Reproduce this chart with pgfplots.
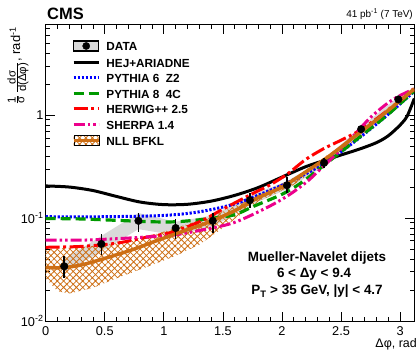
\documentclass[border=0pt]{standalone}
\usepackage{fontspec}
\setmainfont{Liberation Sans}
\usepackage{pgfplots}
\pgfplotsset{compat=1.18}
\usepackage{pgfplotstable}
\usetikzlibrary{patterns,patterns.meta}
\definecolor{nllorange}{RGB}{205,110,20}
\definecolor{pgreen}{RGB}{0,153,0}

\pgfplotstableread{
x y ep em
0.157 0.034 0.009 0.008
0.471 0.056 0.014 0.012
0.785 0.094 0.019 0.020
1.100 0.080 0.017 0.018
1.414 0.094 0.019 0.022
1.728 0.149 0.028 0.023
2.042 0.208 0.040 0.034
2.356 0.344 0.040 0.036
2.670 0.73 0.06 0.055
2.985 1.42 0.11 0.10
}\datatab

\begin{document}
\begin{tikzpicture}
\path[use as bounding box] (0,0) rectangle (418bp,351bp);
\begin{axis}[
  at={(45.7bp,30bp)}, anchor=south west,
  scale only axis, width=368.6bp, height=296bp,
  xmin=0, xmax=3.12, ymode=log, ymin=0.01, ymax=7.5,
  xtick={0,0.5,1,1.5,2,2.5,3}, minor x tick num=4,
  ytick={0.01,0.1,1},
  yticklabels={10\textsuperscript{-2},10\textsuperscript{-1},1},
  minor ytick={0.02,0.03,0.04,0.05,0.06,0.07,0.08,0.09,0.2,0.3,0.4,0.5,0.6,0.7,0.8,0.9,2,3,4,5,6,7},
  xtick pos=both, ytick pos=both,
  xticklabel pos=bottom, yticklabel pos=left,
  tick align=inside,
  major tick length=9bp, minor tick length=4.5bp,
  every tick/.style={black, line width=0.8bp},
  axis line style={line width=1bp},
  /pgf/number format/assume math mode=true,
  xticklabel style={font=\fontsize{12.8}{12.8}\selectfont, inner sep=0pt, yshift=-5.5bp},
  yticklabel style={font=\fontsize{12.8}{12.8}\selectfont, inner sep=0pt, xshift=-2bp},
  legend style={draw=none, fill=none, at={(axis description cs:0.0713,0.948)}, anchor=north west,
     inner sep=0pt, outer sep=0pt, row sep=5.6bp,
     font=\fontsize{11.8}{11.8}\selectfont\bfseries,
     nodes={inner sep=0pt, text height=10bp, text depth=0pt},
     /tikz/every odd column/.append style={column sep=6bp}},
  legend cell align=left,
]
% data systematic band
\addplot[draw=none, fill=gray!30, forget plot] coordinates {
(0.157,0.040) (0.471,0.067) (0.785,0.112) (1.100,0.092) (1.414,0.106) (1.728,0.165) (2.042,0.228) (2.356,0.37) (2.670,0.77) (2.985,1.50)
(2.985,1.35) (2.670,0.69) (2.356,0.32) (2.042,0.19) (1.728,0.133) (1.414,0.082) (1.100,0.068) (0.785,0.078) (0.471,0.047) (0.157,0.030)
} -- cycle;
% NLL BFKL band
\addplot[draw=none, pattern={Hatch[angle=45,distance=4.5bp,line width=0.8bp]}, pattern color=nllorange, forget plot] coordinates {
(0,0.050) (0.3,0.052) (0.6,0.057) (0.9,0.068) (1.1,0.080) (1.3,0.095) (1.5,0.115) (1.8,0.168) (2.1,0.245) (2.4,0.42) (2.7,0.73) (3.0,1.42) (3.12,1.85)
(3.12,1.75) (3.0,1.32) (2.7,0.66) (2.4,0.37) (2.1,0.21) (1.8,0.145) (1.5,0.080) (1.3,0.055) (1.1,0.043) (0.9,0.035) (0.6,0.026) (0.4,0.021) (0.2,0.0185) (0.1,0.0195) (0,0.026)
} -- cycle;
% HEJ+ARIADNE
\addplot[black, line width=3bp, smooth, tension=0.5, forget plot] coordinates {
(0,0.205) (0.2,0.200) (0.4,0.185) (0.6,0.162) (0.8,0.143) (1.0,0.135) (1.2,0.136) (1.4,0.146) (1.6,0.166) (1.8,0.198) (2.0,0.250) (2.2,0.315) (2.35,0.360) (2.5,0.410) (2.65,0.465) (2.8,0.54) (2.9,0.63) (3.0,0.80) (3.06,0.98) (3.12,1.45)
};
% PYTHIA 6 Z2
\addplot[blue, line width=3bp, dash pattern=on 2.2bp off 1.8bp, smooth, tension=0.5, forget plot] coordinates {
(0,0.103) (0.5,0.103) (1.0,0.106) (1.3,0.115) (1.6,0.137) (1.87,0.18) (2.1,0.235) (2.3,0.31) (2.5,0.44) (2.7,0.66) (2.9,1.02) (3.12,1.70)
};
% PYTHIA 8 4C
\addplot[pgreen, line width=3.2bp, dash pattern=on 10bp off 5bp, smooth, tension=0.5, forget plot] coordinates {
(0,0.099) (0.3,0.098) (0.6,0.095) (0.9,0.092) (1.1,0.092) (1.33,0.097) (1.59,0.107) (1.76,0.13) (2.0,0.17) (2.15,0.215) (2.3,0.29) (2.5,0.44) (2.7,0.67) (2.9,1.02) (3.12,1.72)
};
% HERWIG++ 2.5
\addplot[red, line width=3bp, dash pattern=on 14bp off 3.5bp on 3bp off 3.5bp, smooth, tension=0.5, forget plot] coordinates {
(0,0.052) (0.3,0.053) (0.6,0.057) (0.85,0.065) (1.07,0.073) (1.31,0.093) (1.5,0.122) (1.76,0.175) (1.9,0.21) (2.05,0.27) (2.2,0.37) (2.35,0.47) (2.5,0.57) (2.65,0.70) (2.8,0.92) (2.95,1.25) (3.12,1.75)
};
% SHERPA 1.4
\addplot[magenta, line width=3bp, dash pattern=on 11bp off 3bp on 2.5bp off 3bp on 2.5bp off 3bp, smooth, tension=0.5, forget plot] coordinates {
(0,0.061) (0.3,0.061) (0.6,0.063) (0.9,0.066) (1.07,0.068) (1.31,0.076) (1.59,0.09) (1.87,0.126) (2.05,0.165) (2.2,0.22) (2.3,0.28) (2.45,0.41) (2.6,0.62) (2.75,0.95) (2.9,1.32) (3.0,1.55) (3.12,1.8)
};
% NLL BFKL central
\addplot[nllorange, line width=3.5bp, smooth, tension=0.5, forget plot] coordinates {
(0,0.033) (0.15,0.033) (0.3,0.035) (0.45,0.039) (0.6,0.044) (0.75,0.050) (0.9,0.058) (1.05,0.067) (1.2,0.077) (1.4,0.093) (1.6,0.118) (1.8,0.158) (2.0,0.20) (2.2,0.28) (2.4,0.40) (2.6,0.60) (2.8,0.90) (3.0,1.38) (3.12,1.8)
};
% DATA
\addplot[black, only marks, mark=*, mark size=3.8bp, forget plot,
  error bars/.cd, y dir=both, y explicit, error mark=none,
  error bar style={line width=1.5bp, black}]
  table[x=x, y=y, y error plus=ep, y error minus=em] {\datatab};

\addlegendimage{legend image code/.code={
  \draw[fill=gray!30, draw=black, line width=1.2bp] (0bp,-5bp) rectangle (25bp,5bp);
  \fill[black] (12.5bp,0bp) circle (3.6bp);}}
\addlegendentry{DATA}
\addlegendimage{legend image code/.code={\draw[black, line width=3bp] (0bp,0bp) -- (25bp,0bp);}}
\addlegendentry{HEJ+ARIADNE}
\addlegendimage{legend image code/.code={\draw[blue, line width=3bp, dash pattern=on 2.2bp off 1.8bp] (0bp,0bp) -- (25bp,0bp);}}
\addlegendentry{PYTHIA 6\ \ Z2}
\addlegendimage{legend image code/.code={\draw[pgreen, line width=3.2bp, dash pattern=on 10bp off 5bp] (0bp,0bp) -- (25bp,0bp);}}
\addlegendentry{PYTHIA 8\ \ 4C}
\addlegendimage{legend image code/.code={\draw[red, line width=3bp, dash pattern=on 14bp off 3.5bp on 3bp off 3.5bp] (0bp,0bp) -- (25bp,0bp);}}
\addlegendentry{HERWIG++ 2.5}
\addlegendimage{legend image code/.code={\draw[magenta, line width=3bp, dash pattern=on 11bp off 3bp on 2.5bp off 3bp on 2.5bp off 3bp] (0bp,0bp) -- (25bp,0bp);}}
\addlegendentry{SHERPA 1.4}
\addlegendimage{legend image code/.code={
  \fill[pattern={Hatch[angle=45,distance=4.5bp,line width=0.8bp]}, pattern color=nllorange] (0bp,-5bp) rectangle (25bp,5bp);
  \draw[nllorange, line width=3.5bp] (0bp,0bp) -- (25bp,0bp);}}
\addlegendentry{NLL BFKL}
\end{axis}
\node[anchor=base west, inner sep=0pt] at (47bp,331bp) {\fontsize{16.5}{16.5}\selectfont\bfseries CMS};
\node[anchor=base east, inner sep=0pt] at (413bp,333.7bp) {\fontsize{10}{10}\selectfont 41 pb\textsuperscript{-1} (7 TeV)};
\node[anchor=base east, inner sep=0pt] at (417bp,3.6bp) {\fontsize{12.5}{12.5}\selectfont Δφ, rad};
\node[rotate=90, anchor=north east, inner sep=0pt] at (7bp,324bp) {\fontsize{13}{13}\selectfont
  $\frac{\mbox{\fontsize{11.5}{11.5}\selectfont 1}}{\mbox{\fontsize{11.5}{11.5}\selectfont σ}}\,\frac{\mbox{\fontsize{11.5}{11.5}\selectfont dσ}}{\mbox{\fontsize{11.5}{11.5}\selectfont d(Δφ)}}$, rad\textsuperscript{-1}};
\node[anchor=base, inner sep=0pt] at (317bp,89.3bp) {\fontsize{13.5}{13.5}\selectfont\bfseries Mueller-Navelet dijets};
\node[anchor=base, inner sep=0pt] at (314bp,73.3bp) {\fontsize{13.5}{13.5}\selectfont\bfseries 6 < Δy < 9.4};
\node[anchor=base, inner sep=0pt] at (317bp,56bp) {\fontsize{13.5}{13.5}\selectfont\bfseries P\textsubscript{T} > 35 GeV, |y| < 4.7};
\end{tikzpicture}
\end{document}
